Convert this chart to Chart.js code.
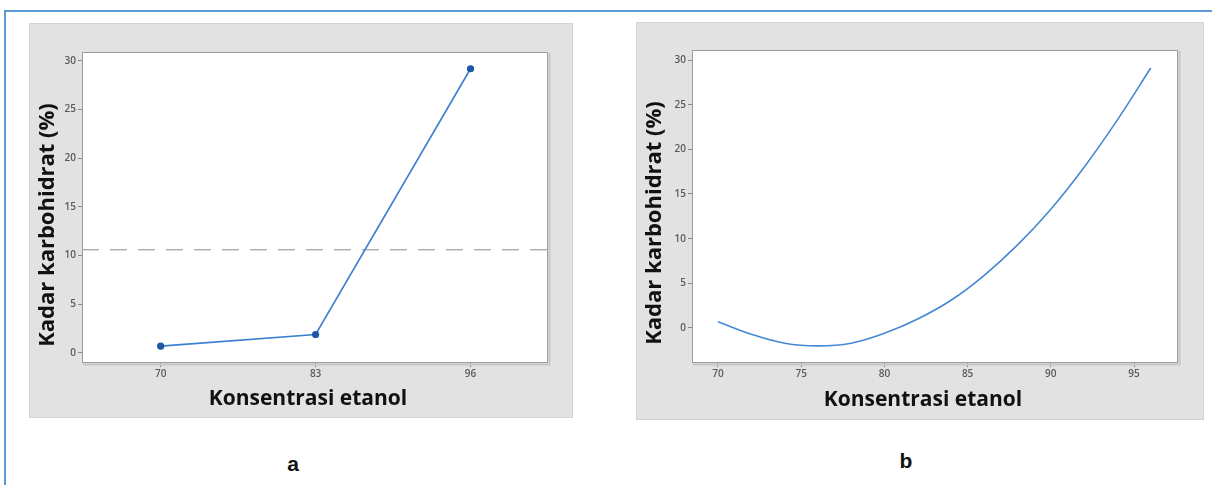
<!DOCTYPE html>
<html>
<head>
<meta charset="utf-8">
<title>Kadar karbohidrat vs Konsentrasi etanol</title>
<script src="https://cdn.jsdelivr.net/npm/chart.js@4.4.1/dist/chart.umd.min.js"></script>
<style>
  html, body { margin: 0; padding: 0; background: #fff; width: 1212px; height: 485px; overflow: hidden; }
  #frame { position: absolute; left: 4px; top: 10px; width: 1208px; height: 475px;
           border-top: 2px solid #5b9bd5; border-left: 2px solid #5b9bd5; box-sizing: border-box; }
  .panel { position: absolute; background: #e2e2e2; outline: 1px solid #d3d3d3; outline-offset: -1px; }
  .panel canvas { display: block; }
  .tag { position: absolute; font: bold 21px "Liberation Sans", Arial, sans-serif; color: #111;
         transform: translate(-50%, -50%); }
</style>
</head>
<body>
<div id="frame"></div>
<div class="panel" style="left:29px; top:23px; width:544px; height:395px;"><canvas id="chartA"></canvas></div>
<div class="panel" style="left:636px; top:22px; width:568px; height:398px;"><canvas id="chartB"></canvas></div>
<div class="tag" style="left:293px; top:464px;">a</div>
<div class="tag" style="left:906px; top:461px;">b</div>

<script>
// Panel a: mean carbohydrate content at each ethanol concentration
const etanolA = [70, 83, 96];
const karbohidratA = [0.7, 1.9, 29.2];
const xTicksA = [70, 83, 96];
const yTicksA = [0, 5, 10, 15, 20, 25, 30];

// Panel b: fitted response curve
const etanolB = [70, 72, 74, 76, 78, 80, 82, 84, 86, 88, 90, 92, 94, 96];
const karbohidratB = [0.7, -0.7, -1.7, -2.0, -1.7, -0.6, 1.0, 3.1, 5.9, 9.3, 13.3, 18.0, 23.3, 29.1];
const xTicksB = [70, 75, 80, 85, 90, 95];
const yTicksB = [0, 5, 10, 15, 20, 25, 30];

const axisTitleX = 'Konsentrasi etanol';
const axisTitleY = 'Kadar karbohidrat (%)';

const grandMean = karbohidratA.reduce((s, v) => s + v, 0) / karbohidratA.length;

const tickFont = { family: '"Open Sans", sans-serif', size: 10, weight: '600' };
const tickColor = '#5a5a5a';

// white plot area, grey frame with a soft shadow, and bold axis captions
const plotFrame = {
  id: 'plotFrame',
  beforeDraw(chart) {
    const { ctx, chartArea: a } = chart;
    ctx.save();
    ctx.fillStyle = '#ffffff';
    ctx.fillRect(a.left, a.top, a.right - a.left, a.bottom - a.top);
    ctx.restore();
  },
  afterDraw(chart, args, opts) {
    const { ctx, chartArea: a } = chart;
    ctx.save();
    ctx.strokeStyle = '#c6c6c6';
    ctx.lineWidth = 2;
    ctx.beginPath();
    ctx.moveTo(a.right + 1.5, a.top + 1);
    ctx.lineTo(a.right + 1.5, a.bottom + 1.5);
    ctx.lineTo(a.left + 1, a.bottom + 1.5);
    ctx.stroke();
    ctx.strokeStyle = '#9c9c9c';
    ctx.lineWidth = 1;
    ctx.strokeRect(a.left + 0.5, a.top + 0.5, a.right - a.left - 1, a.bottom - a.top - 1);

    ctx.fillStyle = '#111111';
    ctx.textAlign = 'center';
    ctx.textBaseline = 'middle';
    ctx.font = 'bold ' + opts.xSize + 'px "Open Sans", sans-serif';
    ctx.fillText(axisTitleX, opts.xAt[0], opts.xAt[1]);
    ctx.translate(opts.yAt[0], opts.yAt[1]);
    ctx.rotate(-Math.PI / 2);
    ctx.font = 'bold ' + opts.ySize + 'px "Open Sans", sans-serif';
    ctx.fillText(axisTitleY, 0, 0);
    ctx.restore();
  }
};

function axis(min, max, tickValues, extent, horizontal) {
  return {
    type: 'linear',
    min: min,
    max: max,
    afterBuildTicks: (s) => { s.ticks = tickValues.map(v => ({ value: v })); },
    afterFit: (s) => { if (horizontal) s.height = extent; else s.width = extent; },
    grid: { display: true, drawOnChartArea: false, drawTicks: true, tickLength: 4, color: '#8a8a8a' },
    border: { display: false },
    ticks: { font: tickFont, color: tickColor, padding: horizontal ? 1 : 2, maxRotation: 0, autoSkip: false,
             callback: (v) => String(v) }
  };
}

const X_MIN_A = 63.4, X_MAX_A = 102.5;

new Chart(document.getElementById('chartA'), {
  type: 'line',
  data: {
    datasets: [
      {
        label: 'Rerata',
        data: [{ x: X_MIN_A, y: grandMean }, { x: X_MAX_A, y: grandMean }],
        borderColor: '#8e8e8e',
        borderWidth: 1,
        borderDash: [17, 11],
        pointRadius: 0,
        order: 2
      },
      {
        label: axisTitleY,
        data: etanolA.map((x, i) => ({ x: x, y: karbohidratA[i] })),
        borderColor: '#3b7fd2',
        borderWidth: 1.6,
        tension: 0,
        pointStyle: 'circle',
        pointRadius: 3.6,
        pointBackgroundColor: '#1b58a6',
        pointBorderColor: '#1b58a6',
        pointBorderWidth: 0,
        order: 1
      }
    ]
  },
  options: {
    responsive: true,
    maintainAspectRatio: false,
    animation: false,
    layout: { padding: { left: 0, top: 29, right: 25, bottom: 0 } },
    plugins: {
      legend: { display: false },
      tooltip: { enabled: false },
      plotFrame: { xAt: [279, 376], xSize: 21, yAt: [19, 202], ySize: 22 }
    },
    scales: {
      x: axis(X_MIN_A, X_MAX_A, xTicksA, 55, true),
      y: axis(-1.03, 30.92, yTicksA, 53, false)
    }
  },
  plugins: [plotFrame]
});

new Chart(document.getElementById('chartB'), {
  type: 'line',
  data: {
    datasets: [
      {
        label: axisTitleY,
        data: etanolB.map((x, i) => ({ x: x, y: karbohidratB[i] })),
        borderColor: '#4688d2',
        borderWidth: 1.6,
        tension: 0.4,
        pointRadius: 0
      }
    ]
  },
  options: {
    responsive: true,
    maintainAspectRatio: false,
    animation: false,
    layout: { padding: { left: 0, top: 28, right: 26, bottom: 0 } },
    plugins: {
      legend: { display: false },
      tooltip: { enabled: false },
      plotFrame: { xAt: [287, 378], xSize: 21, yAt: [19, 201], ySize: 22 }
    },
    scales: {
      x: axis(68.44, 97.64, xTicksB, 57, true),
      y: axis(-3.92, 31.12, yTicksB, 56, false)
    }
  },
  plugins: [plotFrame]
});
</script>
</body>
</html>
